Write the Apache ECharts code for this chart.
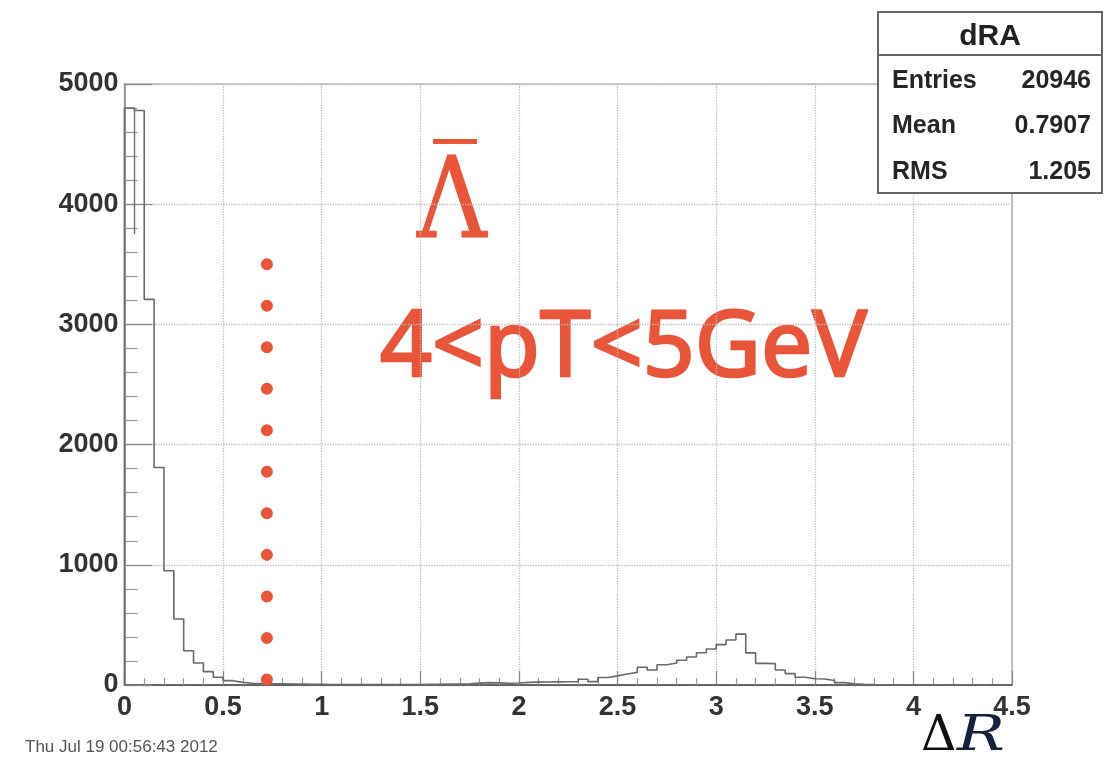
<!DOCTYPE html>
<html>
<head>
<meta charset="utf-8">
<script src="https://cdn.jsdelivr.net/npm/echarts@6/dist/echarts.min.js"></script>
<style>
html,body{margin:0;padding:0;background:#fff;}
#chart{width:1115px;height:758px;}
</style>
</head>
<body>
<div id="chart"></div>
<script>
// ---- data ----
const binWidth = 0.05;          // histogram bin width in ΔR
const xTicks = ['0','0.5','1','1.5','2','2.5','3','3.5','4','4.5'];
const yTicks = ['0','1000','2000','3000','4000','5000'];
// counts per bin, bins start at 0 and step by binWidth (90 bins, 0 – 4.5)
const counts = [
  4800, 4780, 3208, 1810, 950, 549, 285, 183, 111, 64,   // 0.00 – 0.45
  36, 22, 15, 12, 10, 9, 8, 7, 6, 5,                     // 0.50 – 0.95
  4, 4, 3, 3, 3, 3, 3, 3, 4, 4,                          // 1.00 – 1.45
  5, 6, 7, 8, 10, 16, 20, 18, 15, 17,                    // 1.50 – 1.95
  22, 24, 25, 26, 27, 28, 48, 28, 62, 76,                // 2.00 – 2.45
  91, 105, 148, 125, 168, 183, 206, 233, 268, 300,       // 2.50 – 2.95
  336, 375, 423, 267, 180, 178, 125, 95, 65, 52,         // 3.00 – 3.45
  50, 38, 20, 10, 6, 3, 2, 1, 1, 0,                      // 3.50 – 3.95
  0, 0, 0, 0, 0, 0, 0, 0, 0, 0                           // 4.00 – 4.45
];
const innerEdge = [0.05, 4800, 3750];       // extra vertical edge drawn inside first bins
const cutX = 0.722;                          // red dotted cut line position
const cutRange = [3500, 35];                 // top and bottom of the dotted cut line
const statsTitle = 'dRA';
const statsRows = [['Entries','20946'],['Mean','0.7907'],['RMS','1.205']];
const dateText = 'Thu Jul 19 00:56:43 2012';

// ---- build step outline ----
const histPts = [[0, 0]];
counts.forEach((c, i) => histPts.push([+(i * binWidth).toFixed(4), c]));
histPts.push([4.5, counts[counts.length - 1]]);

const chart = echarts.init(document.getElementById('chart'), null, {renderer: 'canvas'});
const labelFont = {fontFamily: 'Liberation Sans', fontWeight: 'bold', fontSize: 27, color: '#333'};
const red = '#E9553A';

const option = {
  animation: false,
  backgroundColor: '#fff',
  grid: {left: 124.5, right: 103, top: 84, bottom: 73, show: true, borderColor: '#9a9a9a', borderWidth: 1.2, containLabel: false},
  xAxis: {
    type: 'value', min: 0, max: 4.5, interval: 0.5,
    axisLine: {show: true, onZero: false, lineStyle: {color: '#444', width: 1.5}},
    axisTick: {show: true, inside: true, length: 14, lineStyle: {color: '#888', width: 1.2}},
    minorTick: {show: true, splitNumber: 5, length: 7, lineStyle: {color: '#999', width: 1.2}},
    splitLine: {show: true, lineStyle: {type: 'dotted', color: '#bdbdbd', width: 1.3}},
    axisLabel: Object.assign({margin: 9, formatter: v => xTicks[Math.round(v / 0.5)] ?? ''}, labelFont)
  },
  yAxis: {
    type: 'value', min: 0, max: 5000, interval: 1000,
    axisLine: {show: true, lineStyle: {color: '#8a8a8a', width: 1.5}},
    axisTick: {show: true, inside: true, length: 28, lineStyle: {color: '#888', width: 1.2}},
    minorTick: {show: true, splitNumber: 5, length: 13, lineStyle: {color: '#999', width: 1.2}},
    splitLine: {show: true, lineStyle: {type: 'dotted', color: '#bdbdbd', width: 1.3}},
    axisLabel: Object.assign({margin: 6, formatter: v => yTicks[Math.round(v / 1000)] ?? ''}, labelFont)
  },
  series: [
    {
      type: 'line', step: 'end', data: histPts, symbol: 'none', silent: true,
      lineStyle: {color: '#6a6a6a', width: 1.6},
      markLine: {
        silent: true, symbol: 'none', label: {show: false},
        lineStyle: {color: '#707070', width: 1.4, type: 'solid'},
        data: [[{coord: [innerEdge[0], innerEdge[1]]}, {coord: [innerEdge[0], innerEdge[2]]}]]
      }
    },
    {
      type: 'line', data: [[cutX, cutRange[0]], [cutX, cutRange[1]]], symbol: 'none', silent: true,
      lineStyle: {color: red, width: 12, type: [0.01, 41.5], cap: 'round'}
    }
  ],
  graphic: [
    // Lambda-bar label
    {type: 'text', x: 417, y: 208, scaleX: 0.86, scaleY: 1,
      style: {text: 'Λ', fontFamily: 'DejaVu Serif', fontSize: 112, fill: red, stroke: red, lineWidth: 1, textAlign: 'left', textVerticalAlign: 'middle'}},
    {type: 'rect', shape: {x: 433, y: 139, width: 44, height: 5}, style: {fill: red}},
    {type: 'text', x: 380, y: 350,
      style: {text: '4<pT<5GeV', fontFamily: 'Noto Sans', fontSize: 91, fill: red, stroke: red, lineWidth: 2.5, textAlign: 'left', textVerticalAlign: 'middle'}},
    // axis title
    {type: 'text', x: 921, y: 737,
      style: {text: 'Δ', fontFamily: 'DejaVu Serif', fontSize: 49, fill: '#111', textAlign: 'left', textVerticalAlign: 'middle'}},
    {type: 'text', x: 957, y: 737, scaleX: 1.3,
      style: {text: 'R', fontFamily: 'DejaVu Serif', fontStyle: 'italic', fontSize: 49, fill: '#14213a', textAlign: 'left', textVerticalAlign: 'middle'}},
    // date stamp
    {type: 'text', x: 25, y: 747,
      style: {text: dateText, fontFamily: 'Liberation Sans', fontSize: 17, fill: '#555', textAlign: 'left', textVerticalAlign: 'middle'}},
    // stats box
    {type: 'rect', shape: {x: 878, y: 12, width: 224, height: 181}, style: {fill: '#fff', stroke: '#666', lineWidth: 2}, z: 100},
    {type: 'line', shape: {x1: 878, y1: 55, x2: 1102, y2: 55}, style: {stroke: '#666', lineWidth: 2}, z: 101},
    {type: 'text', x: 990, y: 37, z: 101,
      style: {text: statsTitle, fontFamily: 'Liberation Sans', fontWeight: 'bold', fontSize: 30, fill: '#222', textAlign: 'center', textVerticalAlign: 'middle'}},
    ...statsRows.flatMap((r, i) => [
      {type: 'text', x: 892, y: 81 + i * 45.5, z: 101,
        style: {text: r[0], fontFamily: 'Liberation Sans', fontWeight: 'bold', fontSize: 25, fill: '#262626', textAlign: 'left', textVerticalAlign: 'middle'}},
      {type: 'text', x: 1091, y: 81 + i * 45.5, z: 101,
        style: {text: r[1], fontFamily: 'Liberation Sans', fontWeight: 'bold', fontSize: 25, fill: '#262626', textAlign: 'right', textVerticalAlign: 'middle'}}
    ])
  ]
};
chart.setOption(option);
</script>
</body>
</html>
